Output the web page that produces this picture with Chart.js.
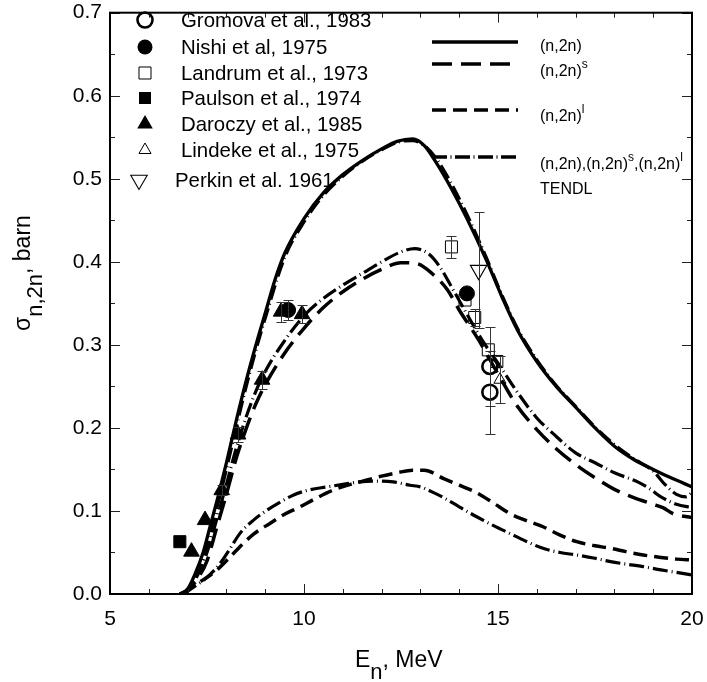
<!DOCTYPE html>
<html>
<head>
<meta charset="utf-8">
<script src="https://cdn.jsdelivr.net/npm/chart.js@4.4.0/dist/chart.umd.min.js"></script>
<style>
html,body{margin:0;padding:0;background:#fff;}
#wrap{width:707px;height:682px;}
canvas{display:block;}
</style>
</head>
<body>
<div id="wrap"><canvas id="c" width="707" height="682" style="width:707px;height:682px"></canvas></div>
<script>
// ---------------- DATA ----------------
const xTickValues = [5, 10, 15, 20];
const yTickValues = [0.0, 0.1, 0.2, 0.3, 0.4, 0.5, 0.6, 0.7];

// Experimental points (E in MeV, sigma in barn, y-error in barn)
const gromovaE = [14.79, 14.79];
const gromovaV = [0.274, 0.243];
const gromovaErr = [0.048, 0.05];

const nishiE = [9.59, 14.2];
const nishiV = [0.342, 0.362];
const nishiErr = [0.012, 0.0];

const landrumE = [13.8, 14.15, 14.4, 14.75, 14.97];
const landrumV = [0.418, 0.354, 0.333, 0.294, 0.280];
const landrumErr = [0.013, 0.0, 0.01, 0.0, 0.0];

const paulsonE = [6.8];
const paulsonV = [0.063];
const paulsonErr = [0];

const daroczyE = [7.1, 7.45, 7.88, 8.3, 8.92, 9.41, 9.95];
const daroczyV = [0.051, 0.089, 0.125, 0.192, 0.258, 0.340, 0.337];
const daroczyErr = [0, 0, 0.006, 0.009, 0.011, 0.012, 0.011];

const lindekeE = [15.05];
const lindekeV = [0.258];
const lindekeErr = [0.028];

const perkinE = [14.5];
const perkinV = [0.39];
const perkinErr = [0.07];

// Calculated curves
const n2nE = [6.8, 7.0, 7.2, 7.4, 7.6, 7.8, 8.0, 8.25, 8.5, 8.75, 9.0, 9.25, 9.5, 10.0, 10.5, 11.0, 11.5, 12.0, 12.4, 12.8, 13.1, 13.4, 13.8, 14.2, 14.7, 15.1, 15.5, 16.0, 16.5, 17.0, 17.5, 18.0, 18.5, 19.0, 19.5, 20.0];
const n2nV = [0, 0.006, 0.025, 0.05, 0.085, 0.12, 0.158, 0.208, 0.255, 0.298, 0.338, 0.378, 0.41, 0.452, 0.483, 0.505, 0.522, 0.536, 0.545, 0.548, 0.54, 0.52, 0.488, 0.452, 0.402, 0.358, 0.318, 0.28, 0.25, 0.225, 0.2, 0.178, 0.162, 0.15, 0.139, 0.129];

const n2nSE = [6.8, 7.0, 7.25, 7.5, 7.75, 8.0, 8.25, 8.5, 8.75, 9.0, 9.5, 10.0, 10.5, 11.0, 11.5, 12.0, 12.5, 12.9, 13.3, 13.7, 14.0, 14.5, 15.0, 15.5, 16.0, 16.5, 17.0, 17.5, 18.0, 18.5, 19.0, 19.25, 19.5, 20.0];
const n2nSV = [0, 0.004, 0.018, 0.04, 0.08, 0.12, 0.163, 0.198, 0.228, 0.252, 0.29, 0.32, 0.345, 0.364, 0.379, 0.391, 0.399, 0.398, 0.386, 0.366, 0.342, 0.306, 0.265, 0.226, 0.198, 0.175, 0.156, 0.14, 0.126, 0.116, 0.108, 0.104, 0.097, 0.092];

const n2nLE = [6.9, 7.06, 7.4, 7.76, 8.0, 8.35, 8.7, 9.12, 9.5, 9.9, 10.3, 10.75, 11.2, 11.6, 12.0, 12.4, 12.8, 13.1, 13.6, 14.0, 14.45, 14.9, 15.3, 15.7, 16.16, 16.6, 17.03, 17.5, 17.9, 18.3, 18.74, 19.2, 19.6, 20.0];
const n2nLV = [0, 0.007, 0.017, 0.029, 0.04, 0.057, 0.072, 0.085, 0.096, 0.105, 0.115, 0.125, 0.132, 0.137, 0.142, 0.146, 0.149, 0.149, 0.139, 0.131, 0.122, 0.109, 0.097, 0.089, 0.081, 0.071, 0.063, 0.058, 0.055, 0.051, 0.047, 0.044, 0.042, 0.041];

const tendlE = [6.8, 7.0, 7.2, 7.4, 7.6, 7.8, 8.0, 8.25, 8.5, 8.75, 9.0, 9.5, 10.0, 10.5, 11.0, 11.5, 12.0, 12.5, 12.8, 13.1, 13.4, 13.8, 14.2, 14.7, 15.1, 15.5, 16.0, 16.5, 17.0, 17.5, 18.0, 18.5, 19.0, 19.3, 19.6, 19.85, 20.0];
const tendlV = [0, 0.004, 0.02, 0.043, 0.077, 0.112, 0.15, 0.2, 0.248, 0.292, 0.332, 0.405, 0.448, 0.48, 0.503, 0.521, 0.535, 0.545, 0.546, 0.54, 0.525, 0.494, 0.457, 0.405, 0.36, 0.32, 0.282, 0.251, 0.226, 0.201, 0.18, 0.163, 0.148, 0.132, 0.12, 0.117, 0.122];

const tendlSE = [6.8, 7.0, 7.25, 7.5, 7.75, 8.0, 8.25, 8.5, 8.75, 9.0, 9.5, 10.0, 10.5, 11.0, 11.5, 12.0, 12.5, 12.85, 13.2, 13.5, 13.8, 14.2, 14.6, 15.0, 15.5, 16.0, 16.4, 17.0, 17.5, 18.0, 18.6, 18.9, 19.2, 19.6, 20.0];
const tendlSV = [0, 0.005, 0.022, 0.05, 0.09, 0.132, 0.175, 0.212, 0.243, 0.268, 0.305, 0.335, 0.356, 0.372, 0.386, 0.4, 0.412, 0.416, 0.41, 0.394, 0.37, 0.337, 0.305, 0.278, 0.243, 0.212, 0.194, 0.17, 0.158, 0.146, 0.135, 0.127, 0.117, 0.108, 0.104];

const tendlLE = [6.9, 7.24, 7.5, 7.84, 8.1, 8.35, 8.7, 9.05, 9.4, 9.72, 10.1, 10.6, 11.0, 11.44, 11.9, 12.3, 12.73, 13.0, 13.3, 13.6, 14.0, 14.45, 14.9, 15.3, 15.7, 16.16, 16.6, 17.03, 17.5, 17.9, 18.3, 18.74, 19.2, 19.6, 20.0];
const tendlLV = [0, 0.011, 0.02, 0.037, 0.055, 0.073, 0.089, 0.101, 0.111, 0.119, 0.125, 0.129, 0.132, 0.135, 0.136, 0.135, 0.131, 0.129, 0.123, 0.116, 0.105, 0.093, 0.082, 0.073, 0.064, 0.055, 0.05, 0.047, 0.043, 0.039, 0.036, 0.033, 0.029, 0.026, 0.023];

const pointLabels = ['Gromova et al., 1983', 'Nishi et al, 1975', 'Landrum et al., 1973', 'Paulson et al., 1974', 'Daroczy et al., 1985', 'Lindeke et al., 1975', 'Perkin et al. 1961'];

// ---------------- STYLES ----------------
const FONT = "'Liberation Sans', Arial, Helvetica, sans-serif";
const zip = (xs, ys) => xs.map((x, i) => ({x: x, y: ys[i]}));

const markerStyles = [
  {pointStyle: 'circle', radius: 7.5, fill: false, lw: 2.6, rotation: 0},
  {pointStyle: 'circle', radius: 7.5, fill: true, lw: 1, rotation: 0},
  {pointStyle: 'rect', radius: 8.5, fill: false, lw: 1, rotation: 0},
  {pointStyle: 'rect', radius: 8.5, fill: true, lw: 1, rotation: 0},
  {pointStyle: 'triangle', radius: 9, fill: true, lw: 1, rotation: 0},
  {pointStyle: 'triangle', radius: 7, fill: false, lw: 1, rotation: 0},
  {pointStyle: 'triangle', radius: 9.5, fill: false, lw: 1.1, rotation: 180}
];
const pointSeries = [
  [gromovaE, gromovaV, gromovaErr],
  [nishiE, nishiV, nishiErr],
  [landrumE, landrumV, landrumErr],
  [paulsonE, paulsonV, paulsonErr],
  [daroczyE, daroczyV, daroczyErr],
  [lindekeE, lindekeV, lindekeErr],
  [perkinE, perkinV, perkinErr]
];

const DASH_S = [20, 9];
const DASH_L = [14, 7];
const DASH_DOT = [15, 4, 1, 4];

const datasets = [];
pointSeries.forEach((s, i) => {
  const st = markerStyles[i];
  datasets.push({
    label: pointLabels[i],
    data: zip(s[0], s[1]),
    yErr: s[2],
    showLine: false,
    pointStyle: st.pointStyle,
    pointRadius: st.radius,
    pointRotation: st.rotation,
    pointBackgroundColor: st.fill ? '#000' : 'rgba(0,0,0,0)',
    pointBorderColor: '#000',
    pointBorderWidth: st.lw,
    clip: false
  });
});

function curve(label, xs, ys, dash, width) {
  return {
    label: label,
    data: zip(xs, ys),
    showLine: true,
    borderColor: '#000',
    borderWidth: width,
    borderDash: dash,
    borderCapStyle: 'butt',
    pointRadius: 0,
    fill: false,
    cubicInterpolationMode: 'monotone'
  };
}
datasets.push(curve('(n,2n)', n2nE, n2nV, [], 3.3));
datasets.push(curve('(n,2n)s', n2nSE, n2nSV, DASH_S, 3.5));
datasets.push(curve('(n,2n)l', n2nLE, n2nLV, DASH_L, 3.5));
datasets.push(curve('TENDL (n,2n)', tendlE, tendlV, DASH_DOT, 3.2));
datasets.push(curve('TENDL (n,2n)s', tendlSE, tendlSV, DASH_DOT, 3.2));
datasets.push(curve('TENDL (n,2n)l', tendlLE, tendlLV, DASH_DOT, 3.2));

// ---------------- PLUGINS ----------------
const AREA = {left: 110, right: 692, top: 12.7, bottom: 594};

const fixArea = {
  id: 'fixArea',
  afterLayout(chart) {
    const ca = chart.chartArea;
    ca.left = AREA.left; ca.right = AREA.right; ca.top = AREA.top; ca.bottom = AREA.bottom;
    ca.width = AREA.right - AREA.left; ca.height = AREA.bottom - AREA.top;
    const x = chart.scales.x, y = chart.scales.y;
    x.left = AREA.left; x.right = AREA.right; x.width = ca.width;
    x.top = AREA.bottom; x.bottom = chart.height; x.height = x.bottom - x.top;
    x.configure();
    y.top = AREA.top; y.bottom = AREA.bottom; y.height = ca.height;
    y.left = 0; y.right = AREA.left; y.width = AREA.left;
    y.configure();
  }
};

function drawMarker(ctx, st, x, y) {
  const r = st.radius;
  ctx.beginPath();
  if (st.pointStyle === 'circle') {
    ctx.arc(x, y, r, 0, Math.PI * 2);
  } else if (st.pointStyle === 'rect') {
    const s = r * Math.SQRT1_2;
    ctx.rect(x - s, y - s, 2 * s, 2 * s);
  } else {
    let rad = (st.rotation || 0) * Math.PI / 180;
    for (let i = 0; i < 3; i++) {
      const px = x + Math.sin(rad) * r, py = y - Math.cos(rad) * r;
      if (i) ctx.lineTo(px, py); else ctx.moveTo(px, py);
      rad += 2 * Math.PI / 3;
    }
    ctx.closePath();
  }
  if (st.fill) { ctx.fillStyle = '#000'; ctx.fill(); }
  else { ctx.lineWidth = st.lw; ctx.strokeStyle = '#000'; ctx.stroke(); }
}

const errorBars = {
  id: 'errorBars',
  afterDatasetsDraw(chart) {
    const ctx = chart.ctx, xs = chart.scales.x, ys = chart.scales.y;
    ctx.save();
    ctx.strokeStyle = '#333';
    ctx.lineWidth = 1;
    chart.data.datasets.forEach(ds => {
      if (!ds.yErr) return;
      ds.data.forEach((p, i) => {
        const e = ds.yErr[i];
        if (!e) return;
        const px = Math.round(xs.getPixelForValue(p.x)) + 0.5;
        const y1 = Math.round(ys.getPixelForValue(p.y + e)) + 0.5;
        const y2 = Math.round(ys.getPixelForValue(p.y - e)) + 0.5;
        ctx.beginPath();
        ctx.moveTo(px, y1); ctx.lineTo(px, y2);
        ctx.moveTo(px - 5, y1); ctx.lineTo(px + 5, y1);
        ctx.moveTo(px - 5, y2); ctx.lineTo(px + 5, y2);
        ctx.stroke();
      });
    });
    ctx.restore();
  }
};

const frame = {
  id: 'frame',
  afterDraw(chart) {
    const ctx = chart.ctx;
    const {left, right, top, bottom} = chart.chartArea;
    const xs = chart.scales.x, ys = chart.scales.y;
    ctx.save();
    ctx.strokeStyle = '#222';
    ctx.lineWidth = 1;
    ctx.beginPath();
    for (let e = 5; e <= 20; e += 1) {
      const px = Math.round(xs.getPixelForValue(e)) + 0.5;
      const len = (e % 5 === 0) ? 10 : 5;
      ctx.moveTo(px, bottom); ctx.lineTo(px, bottom - len);
      ctx.moveTo(px, top); ctx.lineTo(px, top + len);
    }
    for (let k = 0; k <= 14; k++) {
      const py = Math.round(ys.getPixelForValue(k * 0.05)) + 0.5;
      const len = (k % 2 === 0) ? 10 : 5;
      ctx.moveTo(left, py); ctx.lineTo(left + len, py);
      ctx.moveTo(right, py); ctx.lineTo(right - len, py);
    }
    ctx.stroke();
    ctx.strokeStyle = '#000';
    ctx.lineWidth = 2;
    ctx.strokeRect(left, top, right - left, bottom - top);
    ctx.restore();
  }
};

const legendAndTitles = {
  id: 'legendAndTitles',
  afterDraw(chart) {
    const ctx = chart.ctx;
    ctx.save();
    ctx.fillStyle = '#000';
    ctx.textAlign = 'left';
    ctx.textBaseline = 'middle';
    // left legend (markers)
    const rowsY = [20, 47, 73, 98, 124, 150, 180];
    ctx.font = '20.4px ' + FONT;
    pointLabels.forEach((lab, i) => {
      const mx = (i === 6) ? 139 : 145;
      const tx = (i === 6) ? 175 : 181;
      drawMarker(ctx, markerStyles[i], mx, rowsY[i]);
      ctx.fillStyle = '#000';
      ctx.fillText(lab, tx, rowsY[i] + 1);
    });
    // right legend (lines)
    const lines = [
      {y: 42, dash: [], w: 3.5},
      {y: 64, dash: DASH_S, w: 3.5},
      {y: 110, dash: DASH_L, w: 3.5},
      {y: 157, dash: [15, 3.5, 1, 3.5], w: 3.3}
    ];
    ctx.strokeStyle = '#000';
    ctx.lineCap = 'butt';
    lines.forEach(l => {
      ctx.setLineDash(l.dash);
      ctx.lineWidth = l.w;
      ctx.beginPath();
      ctx.moveTo(432, l.y); ctx.lineTo(518, l.y);
      ctx.stroke();
    });
    ctx.setLineDash([]);
    const big = '16px ' + FONT, sup = '12px ' + FONT;
    ctx.textBaseline = 'alphabetic';
    function supText(parts, x, y) {
      parts.forEach(p => {
        ctx.font = p[1] ? sup : big;
        ctx.fillText(p[0], x, p[1] ? y - 8 : y);
        x += ctx.measureText(p[0]).width;
      });
    }
    supText([['(n,2n)', 0]], 540, 51);
    supText([['(n,2n)', 0], ['s', 1]], 540, 76);
    supText([['(n,2n)', 0], ['l', 1]], 540, 121);
    supText([['(n,2n),(n,2n)', 0], ['s', 1], [',(n,2n)', 0], ['l', 1]], 540, 169);
    supText([['TENDL', 0]], 540, 194);

    // x axis title
    ctx.font = '23px ' + FONT;
    let x = 355;
    ctx.fillText('E', x, 667);
    x += ctx.measureText('E').width;
    ctx.font = '22px ' + FONT;
    ctx.fillText('n', x, 679);
    x += ctx.measureText('n').width;
    ctx.font = '23px ' + FONT;
    ctx.fillText(', MeV', x, 667);

    // y axis title (rotated)
    ctx.translate(30, 331);
    ctx.rotate(-Math.PI / 2);
    let t = 0;
    ctx.font = '23px ' + FONT;
    ctx.fillText('\u03C3', t, 0);
    t += ctx.measureText('\u03C3').width;
    ctx.font = '22px ' + FONT;
    ctx.fillText('n,2n', t, 12);
    t += ctx.measureText('n,2n').width;
    ctx.font = '23px ' + FONT;
    ctx.fillText(', barn', t, 0);
    ctx.restore();
  }
};

// ---------------- CHART ----------------
Chart.defaults.font.family = FONT;
Chart.defaults.color = '#000';

new Chart(document.getElementById('c'), {
  type: 'scatter',
  data: {datasets: datasets},
  options: {
    responsive: false,
    devicePixelRatio: 1,
    animation: false,
    layout: {padding: {left: 0, right: 15, top: 13, bottom: 0}},
    plugins: {legend: {display: false}, tooltip: {enabled: false}},
    scales: {
      x: {
        type: 'linear', min: 5, max: 20,
        afterBuildTicks: s => { s.ticks = xTickValues.map(v => ({value: v})); },
        afterFit: s => { s.height = 88; },
        grid: {display: false, drawTicks: false},
        border: {display: false},
        ticks: {font: {size: 21}, color: '#000', padding: 13, maxRotation: 0, callback: v => String(v)}
      },
      y: {
        type: 'linear', min: 0, max: 0.7,
        afterBuildTicks: s => { s.ticks = yTickValues.map(v => ({value: v})); },
        afterFit: s => { s.width = 110; },
        grid: {display: false, drawTicks: false},
        border: {display: false},
        ticks: {font: {size: 21}, color: '#000', padding: 8, callback: v => Number(v).toFixed(1)}
      }
    }
  },
  plugins: [fixArea, errorBars, frame, legendAndTitles]
});
</script>
</body>
</html>
